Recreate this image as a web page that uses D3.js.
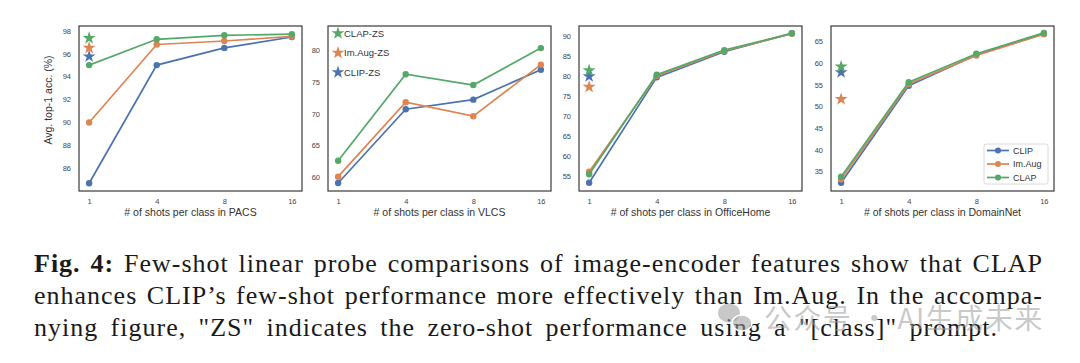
<!DOCTYPE html>
<html>
<head>
<meta charset="utf-8">
<script src="https://cdn.jsdelivr.net/npm/d3@7"></script>
<style>
  body { margin: 0; background: #fff; }
  svg { display: block; }
</style>
</head>
<body>
<div id="chart"></div>
<script>
// x categories and series
const shots = ["1", "4", "8", "16"];
const seriesNames = ["CLIP", "Im.Aug", "CLAP"];
const zsNames = ["CLIP-ZS", "Im.Aug-ZS", "CLAP-ZS"];
const datasets = ["PACS", "VLCS", "OfficeHome", "DomainNet"];

// few-shot accuracy
const pacsCLIP  = [84.7, 95.0, 96.5, 97.45];
const pacsImAug = [90.0, 96.8, 97.1, 97.5];
const pacsCLAP  = [95.0, 97.25, 97.6, 97.7];
const pacsZS    = [95.75, 96.5, 97.35];   // CLIP, Im.Aug, CLAP

const vlcsCLIP  = [59.1, 70.7, 72.2, 76.9];
const vlcsImAug = [60.1, 71.8, 69.6, 77.7];
const vlcsCLAP  = [62.6, 76.2, 74.5, 80.3];

const officeCLIP  = [53.25, 79.6, 86.0, 90.6];
const officeImAug = [56.0, 80.0, 86.2, 90.5];
const officeCLAP  = [55.4, 80.25, 86.4, 90.6];
const officeZS    = [79.85, 77.2, 81.35];

const domainCLIP  = [32.4, 54.8, 61.9, 66.8];
const domainImAug = [33.2, 55.2, 61.8, 66.7];
const domainCLAP  = [33.8, 55.6, 62.2, 67.0];
const domainZS    = [57.9, 51.7, 59.2];

// y ticks and domains
const pacsTicks   = [86, 88, 90, 92, 94, 96, 98];
const vlcsTicks   = [60, 65, 70, 75, 80];
const officeTicks = [55, 60, 65, 70, 75, 80, 85, 90];
const domainTicks = [35, 40, 45, 50, 55, 60, 65];

const colors = ["#4c72b0", "#dd8452", "#55a868"];

const panels = [
  {series: [pacsCLIP, pacsImAug, pacsCLAP], zs: pacsZS, ticks: pacsTicks, domain: [84.02, 98.41], left: 79},
  {series: [vlcsCLIP, vlcsImAug, vlcsCLAP], zs: null, ticks: vlcsTicks, domain: [57.85, 83.77], left: 328},
  {series: [officeCLIP, officeImAug, officeCLAP], zs: officeZS, ticks: officeTicks, domain: [51.2, 92.43], left: 579},
  {series: [domainCLIP, domainImAug, domainCLAP], zs: domainZS, ticks: domainTicks, domain: [30.5, 68.6], left: 831}
];

const W = 1080, H = 363;
const pw = 223, panelTop = 26, ph = 165;
const sans = "'Liberation Sans', Arial, sans-serif";

const svg = d3.select("#chart").append("svg")
  .attr("width", W)
  .attr("height", H);

panels.forEach((p, i) => {
  const g = svg.append("g").attr("transform", `translate(${p.left},${panelTop})`);

  const x = d3.scalePoint().domain(shots).range([0, pw]).padding(0.15);
  const y = d3.scaleLinear().domain(p.domain).range([ph, 0]);

  // axes without tick marks (seaborn white style)
  const xa = g.append("g")
    .attr("transform", `translate(0,${ph})`)
    .call(d3.axisBottom(x).tickSize(0).tickPadding(8));
  const ya = g.append("g")
    .call(d3.axisLeft(y).tickValues(p.ticks).tickSize(0).tickPadding(8));
  [xa, ya].forEach(a => {
    a.select(".domain").remove();
    a.selectAll("text").attr("font-family", sans).attr("font-size", 7.5).attr("fill", "#444");
  });

  const line = d3.line().x((d, j) => x(shots[j])).y(d => y(d));

  p.series.forEach((vals, s) => {
    g.append("path")
      .datum(vals)
      .attr("d", line)
      .attr("fill", "none")
      .attr("stroke", colors[s])
      .attr("stroke-width", 1.7);
    g.selectAll(null)
      .data(vals)
      .join("circle")
      .attr("cx", (d, j) => x(shots[j]))
      .attr("cy", d => y(d))
      .attr("r", 3.2)
      .attr("fill", colors[s]);
  });

  // zero-shot stars at x = 1
  if (p.zs) {
    p.zs.forEach((v, s) => {
      g.append("path")
        .attr("d", d3.symbol(d3.symbolStar, 52)())
        .attr("transform", `translate(${x(shots[0])},${y(v)})`)
        .attr("fill", colors[s]);
    });
  }

  // frame
  g.append("rect")
    .attr("width", pw).attr("height", ph)
    .attr("fill", "none")
    .attr("stroke", "#3a3a3a")
    .attr("stroke-width", 1.2);

  g.append("text")
    .attr("x", pw / 2).attr("y", ph + 25)
    .attr("text-anchor", "middle")
    .attr("font-family", sans).attr("font-size", 10.5).attr("fill", "#333")
    .text("# of shots per class in " + datasets[i]);

  if (i === 0) {
    g.append("text")
      .attr("transform", `translate(-27,${74}) rotate(-90)`)
      .attr("text-anchor", "middle")
      .attr("font-family", sans).attr("font-size", 10.5).attr("fill", "#333")
      .text("Avg. top-1 acc. (%)");
  }

  // zero-shot legend (VLCS panel)
  if (i === 1) {
    [2, 1, 0].forEach((s, k) => {
      const ly = 7.3 + k * 19.5;
      g.append("path")
        .attr("d", d3.symbol(d3.symbolStar, 52)())
        .attr("transform", `translate(10,${ly})`)
        .attr("fill", colors[s]);
      g.append("text")
        .attr("x", 16).attr("y", ly + 3.5)
        .attr("font-family", sans).attr("font-size", 9.5).attr("fill", "#333")
        .text(zsNames[s]);
    });
  }

  // series legend (DomainNet panel)
  if (i === 3) {
    const lg = g.append("g").attr("transform", `translate(${pw - 70},${ph - 47})`);
    lg.append("rect")
      .attr("width", 64).attr("height", 40).attr("rx", 2)
      .attr("fill", "#fff").attr("fill-opacity", 0.85)
      .attr("stroke", "#d0d0d0").attr("stroke-width", 0.8);
    seriesNames.forEach((n, s) => {
      const ly = 6.5 + s * 13.5;
      lg.append("line")
        .attr("x1", 3).attr("x2", 25).attr("y1", ly).attr("y2", ly)
        .attr("stroke", colors[s]).attr("stroke-width", 1.7);
      lg.append("circle").attr("cx", 14).attr("cy", ly).attr("r", 3).attr("fill", colors[s]);
      lg.append("text")
        .attr("x", 29).attr("y", ly + 3.3)
        .attr("font-family", sans).attr("font-size", 9).attr("fill", "#333")
        .text(n);
    });
  }
});

// caption (lines spread to where they end in the reference)
const serif = "'Liberation Serif', 'Times New Roman', serif";
const capLines = [
  {bold: "Fig. 4:", text: " Few-shot linear probe comparisons of image-encoder features show that CLAP", end: 1043},
  {bold: "", text: "enhances CLIP\u2019s few-shot performance more effectively than Im.Aug. In the accompa-", end: 1043},
  {bold: "", text: "nying figure, \"ZS\" indicates the zero-shot performance using a \"[class]\" prompt.", end: 998}
];
const capLeft = 34;
capLines.forEach((l, k) => {
  const t = svg.append("text")
    .attr("x", capLeft).attr("y", 272 + k * 32)
    .attr("font-family", serif).attr("font-size", 26).attr("fill", "#1a1a1a")
    .attr("letter-spacing", 1.0);
  if (l.bold) t.append("tspan").attr("font-weight", "bold").text(l.bold);
  t.append("tspan").text(l.text);
  const spaces = ((l.bold + l.text).match(/ /g) || []).length;
  const w = t.node().getComputedTextLength();
  t.attr("word-spacing", Math.max(0, (l.end - capLeft - w) / spaces));
});

// watermark
const wm = svg.append("g").attr("fill", "#9a9a9a").attr("fill-opacity", 0.55);
wm.append("ellipse").attr("cx", 729).attr("cy", 313).attr("rx", 11).attr("ry", 9.5);
wm.append("ellipse").attr("cx", 742).attr("cy", 323).attr("rx", 10).attr("ry", 8).attr("stroke", "#fff").attr("stroke-width", 1.5);
wm.append("text")
  .attr("x", 764).attr("y", 329)
  .attr("font-family", "'Noto Sans CJK SC', sans-serif").attr("font-size", 28)
  .attr("letter-spacing", 1.5)
  .text("公众号 · AI生成未来");
</script>
</body>
</html>
